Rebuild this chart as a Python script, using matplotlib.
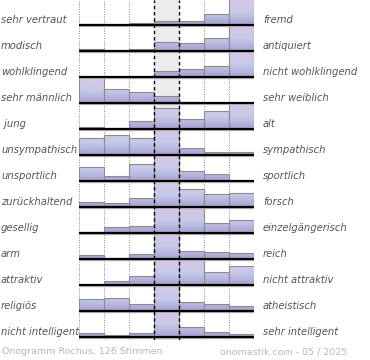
import numpy as np
import matplotlib
matplotlib.use("Agg")
import matplotlib.pyplot as plt
from matplotlib.colors import LinearSegmentedColormap

# left / right adjectives of each row
left_labels = ["sehr vertraut", "modisch", "wohlklingend", "sehr männlich", " jung",
               "unsympathisch", "unsportlich", "zurückhaltend", "gesellig", "arm",
               "attraktiv", "religiös", "nicht intelligent"]
right_labels = ["fremd", "antiquiert", "nicht wohlklingend", "sehr weiblich", "alt",
                "sympathisch", "sportlich", "forsch", "einzelgängerisch", "reich",
                "nicht attraktiv", "atheistisch", "sehr intelligent"]

# relative vote share per scale step (max of row = 100)
r01 = [4, 0, 9, 14, 14, 43, 100]
r02 = [7, 0, 7, 35, 29, 51, 100]
r03 = [0, 0, 0, 24, 31, 44, 100]
r04 = [100, 52, 43, 28, 5, 0, 0]
r05 = [9, 5, 31, 82, 37, 69, 100]
r06 = [64, 77, 64, 100, 28, 13, 13]
r07 = [53, 20, 64, 100, 40, 26, 0]
r08 = [20, 17, 33, 100, 68, 50, 53]
r09 = [3, 22, 27, 100, 98, 40, 50]
r10 = [15, 5, 18, 100, 32, 26, 22]
r11 = [0, 17, 36, 100, 99, 51, 74]
r12 = [45, 49, 27, 100, 33, 27, 19]
r13 = [14, 8, 17, 100, 40, 21, 10]
rows = [r01, r02, r03, r04, r05, r06, r07, r08, r09, r10, r11, r12, r13]

footer_left = "Onogramm Rochus, 126 Stimmen"
footer_right = "onomastik.com - 05 / 2025"

W, H = 370, 360
fig = plt.figure(figsize=(W / 100, H / 100), dpi=100)

# axes in pixel terms: x 79..254, y 0..340 ; row i baseline at 25 + 26*i px
ax = fig.add_axes([79 / W, 1 - 340 / H, 175 / W, 340 / H])
ax.set_xlim(0, 7)
ax.set_ylim((25 - 340) / 26, 25 / 26)
ax.axis("off")

grad = LinearSegmentedColormap.from_list(
    "ono", ["#a89fd0", "#b8b8df", "#c7cbea", "#d2c8e8", "#dcc4e6"])
gimg = np.linspace(0, 1, 64).reshape(-1, 1)

ax.axvspan(3, 4, color="#ececee", zorder=0, lw=0)
for xv in [0, 1, 2, 5, 6, 7]:
    ax.axvline(xv, color="#888888", lw=0.7, ls=(0, (1, 1.5)), zorder=1)

x = np.arange(7) + 0.5
for i, vals in enumerate(rows):
    base = -i
    h = np.array(vals) / 100.0
    bars = ax.bar(x, h, width=1.0, bottom=base, facecolor="none",
                  edgecolor="#8c8c8c", lw=0.8, zorder=3)
    for b, hv in zip(bars, h):
        if hv <= 0:
            b.set_visible(False)
            continue
        im = ax.imshow(gimg, cmap=grad, origin="lower", aspect="auto",
                       extent=(b.get_x(), b.get_x() + 1, base, base + 1), zorder=2)
        im.set_clip_path(b)
    ax.plot([0, 7.04], [base - 0.045, base - 0.045], color="#bbbbbb", lw=1.0, zorder=4,
            solid_capstyle="butt")
    ax.plot([0, 7.04], [base, base], color="black", lw=1.6, zorder=5,
            solid_capstyle="butt")

    ypix = 25 + 26 * i - 5
    fig.text(1 / W, 1 - ypix / H, left_labels[i], ha="left", va="center",
             fontsize=7.2, style="italic", color="#555555")
    fig.text(263 / W, 1 - ypix / H, right_labels[i], ha="left", va="center",
             fontsize=7.2, style="italic", color="#555555")

for xv in [3, 4]:
    ax.axvline(xv, color="black", lw=1.0, ls=(0, (2.5, 2)), zorder=6)

fig.text(2 / W, 1 - 352 / H, footer_left, ha="left", va="center",
         fontsize=6.8, color="#b8b8b8")
fig.text(347 / W, 1 - 352 / H, footer_right, ha="right", va="center",
         fontsize=6.8, color="#b8b8b8")

fig.savefig("out.png", dpi=100)
